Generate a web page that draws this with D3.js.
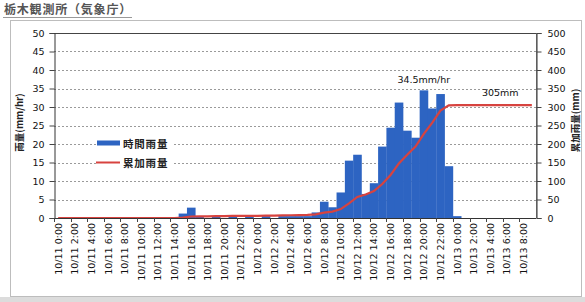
<!DOCTYPE html>
<html><head><meta charset="utf-8">
<script src="https://cdn.jsdelivr.net/npm/d3@7"></script>
<style>
html,body{margin:0;padding:0;background:#fff;}
svg{display:block;}
text{font-family:"DejaVu Sans","Noto Sans CJK JP",sans-serif;}
.jp{font-family:"Noto Sans CJK JP","Noto Sans CJK SC",sans-serif;}
</style></head>
<body>
<svg id="c" width="585" height="302"></svg>
<script>
const title = "栃木観測所（気象庁）";
const categories = [
 "10/11 0:00","10/11 1:00","10/11 2:00","10/11 3:00","10/11 4:00","10/11 5:00","10/11 6:00","10/11 7:00",
 "10/11 8:00","10/11 9:00","10/11 10:00","10/11 11:00","10/11 12:00","10/11 13:00","10/11 14:00","10/11 15:00",
 "10/11 16:00","10/11 17:00","10/11 18:00","10/11 19:00","10/11 20:00","10/11 21:00","10/11 22:00","10/11 23:00",
 "10/12 0:00","10/12 1:00","10/12 2:00","10/12 3:00","10/12 4:00","10/12 5:00","10/12 6:00","10/12 7:00",
 "10/12 8:00","10/12 9:00","10/12 10:00","10/12 11:00","10/12 12:00","10/12 13:00","10/12 14:00","10/12 15:00",
 "10/12 16:00","10/12 17:00","10/12 18:00","10/12 19:00","10/12 20:00","10/12 21:00","10/12 22:00","10/12 23:00",
 "10/13 0:00","10/13 1:00","10/13 2:00","10/13 3:00","10/13 4:00","10/13 5:00","10/13 6:00","10/13 7:00",
 "10/13 8:00","10/13 9:00"
];
// hourly rainfall (mm/hr)
const hourly = [
 0,0,0,0,0,0,0,0, 0,0,0,0,0,0,0,1.2,
 2.8,0.5,0,0.5,0,0.5,0,0.5, 0,0.5,0,0.5,0.5,0.5,0.5,1.5,
 4.4,2.9,6.9,15.5,17.1,6.5,9.4,19.3, 24.4,31.2,23.6,21.7,34.5,29.6,33.5,14.0,
 0.5,0,0,0,0,0,0,0, 0,0
];
// cumulative rainfall (mm)
const cumulative = [
 0,0,0,0,0,0,0,0, 0,0,0,0,0,0,0,1.2,
 4.0,4.5,4.5,5.0,5.0,5.5,5.5,6.0, 6.0,6.5,6.5,7.0,7.5,8.0,8.5,10.0,
 14.4,17.3,24.2,39.7,56.8,63.3,72.7,92.0, 116.4,147.6,171.2,192.9,227.4,257.0,290.5,304.5,
 305,305,305,305,305,305,305,305, 305,305
];
const leftTicks = [0,5,10,15,20,25,30,35,40,45,50];
const rightTicks = [0,50,100,150,200,250,300,350,400,450,500];
const seriesNames = ["時間雨量","累加雨量"];
const leftTitle = "雨量(mm/hr)";
const rightTitle = "累加雨量(mm)";
const peakLabel = "34.5mm/hr";
const totalLabel = "305mm";

const svg = d3.select("#c");
const L = 54, R = 536, T = 33, B = 218;
const x = d3.scaleBand().domain(categories).range([L, R]).padding(0);
const yL = d3.scaleLinear().domain([0, 50]).range([B, T]);
const yR = d3.scaleLinear().domain([0, 500]).range([B, T]);
const bw = x.bandwidth();

// outer frame & title
svg.append("rect").attr("x", 10.5).attr("y", 20.5).attr("width", 571).attr("height", 276)
  .attr("fill", "#fff").attr("stroke", "#bdbdbd").attr("stroke-width", 1);
svg.append("rect").attr("x", 0).attr("y", 297).attr("width", 585).attr("height", 5).attr("fill", "#dcdcdc");
svg.append("text").attr("class", "jp").attr("x", 4).attr("y", 14).attr("font-size", 12)
  .attr("letter-spacing", 0.8).attr("font-weight", "bold").attr("fill", "#555").text(title);
svg.append("line").attr("x1", 3).attr("x2", 132).attr("y1", 17.5).attr("y2", 17.5)
  .attr("stroke", "#999").attr("stroke-width", 1);

// gridlines
svg.append("g").selectAll("line").data(leftTicks.filter(v => v > 0 && v < 50)).join("line")
  .attr("x1", L).attr("x2", R).attr("y1", d => Math.round(yL(d)) + 0.5).attr("y2", d => Math.round(yL(d)) + 0.5)
  .attr("stroke", "#9a9a9a").attr("stroke-width", 1).attr("stroke-dasharray", "2,2");

// bars
svg.append("g").selectAll("rect").data(hourly).join("rect")
  .attr("x", (d, i) => x(categories[i]))
  .attr("y", d => yL(d))
  .attr("width", bw + 0.3)
  .attr("height", d => B - yL(d))
  .attr("fill", "#2d64c2");

// cumulative line
const line = d3.line().x((d, i) => x(categories[i]) + bw / 2).y(d => yR(d));
svg.append("path").datum(cumulative).attr("d", line)
  .attr("fill", "none").attr("stroke", "#d7433f").attr("stroke-width", 2.2);

// plot frame
svg.append("line").attr("x1", L).attr("x2", R).attr("y1", T + 0.5).attr("y2", T + 0.5).attr("stroke", "#444");
svg.append("line").attr("x1", R + 0.5).attr("x2", R + 0.5).attr("y1", T).attr("y2", B).attr("stroke", "#888");

// left axis
const gl = svg.append("g").attr("transform", `translate(${L + 0.5},0)`)
  .call(d3.axisLeft(yL).tickValues(leftTicks).tickSize(5).tickPadding(5));
// right axis
const gr = svg.append("g").attr("transform", `translate(${R + 0.5},0)`)
  .call(d3.axisRight(yR).tickValues(rightTicks).tickSize(5).tickPadding(6));
[gl, gr].forEach(g => {
  g.select(".domain").attr("stroke", "#333");
  g.selectAll(".tick line").attr("stroke", "#444");
  g.selectAll(".tick text").attr("font-size", 9.5).attr("fill", "#111")
    .attr("font-family", "DejaVu Sans, sans-serif");
});

// bottom axis
const gb = svg.append("g");
gb.append("line").attr("x1", L).attr("x2", R).attr("y1", B + 0.5).attr("y2", B + 0.5).attr("stroke", "#333");
const labeled = categories.filter((c, i) => i % 2 === 0);
gb.selectAll("line.tk").data(labeled).join("line").attr("class", "tk")
  .attr("x1", d => Math.round(x(d)) + 0.5).attr("x2", d => Math.round(x(d)) + 0.5)
  .attr("y1", B).attr("y2", B + 4).attr("stroke", "#444");
gb.selectAll("text").data(labeled).join("text")
  .attr("transform", d => `translate(${x(d) + bw / 2},${B + 5}) rotate(-90)`)
  .attr("text-anchor", "end").attr("dominant-baseline", "central")
  .attr("font-size", 9.5).attr("fill", "#111").text(d => d);

// axis titles
svg.append("text").attr("class", "jp").attr("transform", `translate(19,${(T + B) / 2 - 3}) rotate(-90)`)
  .attr("text-anchor", "middle").attr("dominant-baseline", "central")
  .attr("font-size", 9.5).attr("font-weight", "bold").attr("fill", "#222").text(leftTitle);
svg.append("text").attr("class", "jp").attr("transform", `translate(575,${(T + B) / 2 - 5}) rotate(-90)`)
  .attr("text-anchor", "middle").attr("dominant-baseline", "central")
  .attr("font-size", 9.5).attr("font-weight", "bold").attr("fill", "#222").text(rightTitle);

// legend
const lg = svg.append("g");
lg.append("rect").attr("x", 96).attr("y", 136).attr("width", 77).attr("height", 33).attr("fill", "#fff");
lg.append("rect").attr("x", 97).attr("y", 140.5).attr("width", 23).attr("height", 5).attr("fill", "#2d64c2");
lg.append("line").attr("x1", 96).attr("x2", 120).attr("y1", 162.5).attr("y2", 162.5)
  .attr("stroke", "#d7433f").attr("stroke-width", 2);
lg.append("text").attr("class", "jp").attr("x", 123).attr("y", 143.5).attr("dominant-baseline", "central")
  .attr("font-size", 10.5).attr("letter-spacing", 0.8).attr("font-weight", "bold").attr("fill", "#222").text(seriesNames[0]);
lg.append("text").attr("class", "jp").attr("x", 123).attr("y", 162.5).attr("dominant-baseline", "central")
  .attr("font-size", 10.5).attr("letter-spacing", 0.8).attr("font-weight", "bold").attr("fill", "#222").text(seriesNames[1]);

// annotations
const peakIdx = hourly.indexOf(d3.max(hourly));
svg.append("text").attr("x", x(categories[peakIdx]) + bw / 2).attr("y", yL(hourly[peakIdx]) - 7)
  .attr("text-anchor", "middle").attr("font-size", 9.5).attr("fill", "#111").text(peakLabel);
svg.append("text").attr("x", x(categories[53]) + bw * 0.7).attr("y", yR(cumulative[cumulative.length - 1]) - 9)
  .attr("text-anchor", "middle").attr("font-size", 9.5).attr("fill", "#111").text(totalLabel);
</script>
</body></html>
